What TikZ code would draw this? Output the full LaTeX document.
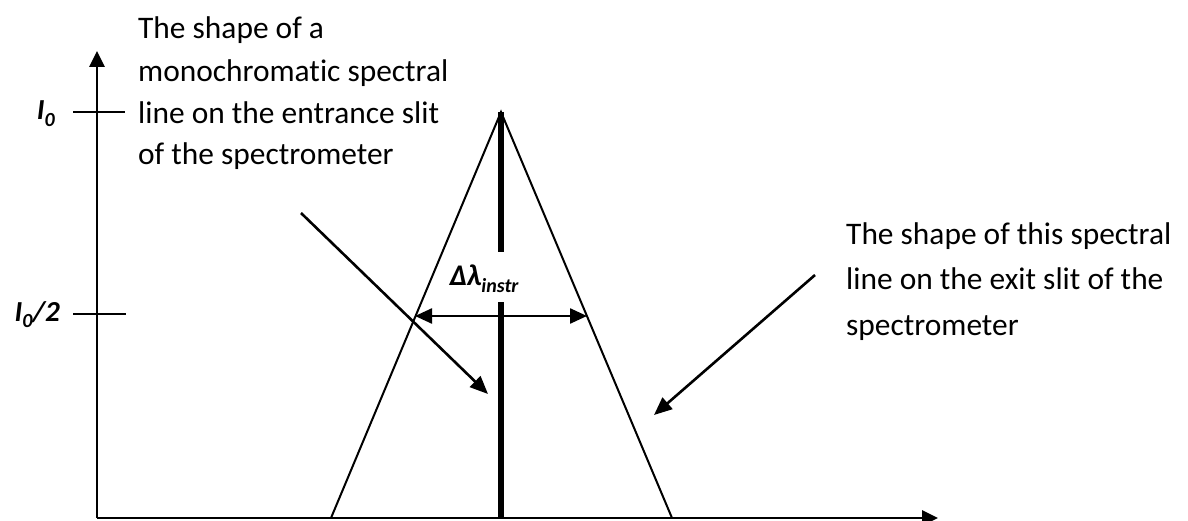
\documentclass[tikz,border=0pt]{standalone}
\usepackage{fontspec}
\setmainfont{Carlito}[Ligatures=NoCommon]
\usetikzlibrary{arrows.meta}
\begin{document}
\begin{tikzpicture}[x=1pt,y=-1pt,
  axisline/.style={line width=2.8pt},
  edgeline/.style={line width=2pt},
  slitline/.style={line width=6.5pt},
  tickline/.style={line width=1.8pt},
  ptr/.style={line width=2.6pt,-{Triangle[length=18pt,width=15pt]}},
  axtip/.style={-{Triangle[length=16pt,width=15pt]}},
  txt/.style={anchor=base west,inner sep=0pt,font=\fontsize{31.4}{38}\selectfont},
  lbl/.style={anchor=base east,inner sep=0pt,font=\fontsize{29}{30}\selectfont\bfseries\itshape}
]
\useasboundingbox (0,0) rectangle (1188,521);
% coordinates
\coordinate (O) at (97,518);
\coordinate (Ytop) at (97,51);
\coordinate (Xend) at (938,518);
\coordinate (A) at (501,112);
\coordinate (BL) at (331,518);
\coordinate (BR) at (672,518);
\coordinate (Abot) at (501,518);
\coordinate (t1a) at (73,112);
\coordinate (t1b) at (125,112);
\coordinate (t2a) at (73,314);
\coordinate (t2b) at (126,314);
\coordinate (wl) at (415,316);
\coordinate (wr) at (587,316);
\coordinate (a1s) at (301,213);
\coordinate (a1e) at (488,394);
\coordinate (a2s) at (815,275);
\coordinate (a2e) at (654,415);
% triangle and slit line
\draw[edgeline] (BL) -- (A) -- (BR);
\draw[slitline] (A) -- (Abot);
% axes
\draw[axisline,axtip] (O) -- (Ytop);
\draw[axisline,axtip] (O) -- (Xend);
% ticks
\draw[tickline] (t1a) -- (t1b);
\draw[tickline] (t2a) -- (t2b);
\node[lbl] (I0) at (55,120) {I\raisebox{-0.22em}{\fontsize{20}{20}\selectfont 0}};
\node[lbl] (I02) at (60,321) {I\raisebox{-0.22em}{\fontsize{20}{20}\selectfont 0}/2};
% width label
\node[fill=white,inner sep=0pt,text height=33pt,text depth=17pt,anchor=base,
      font=\fontsize{30}{32}\selectfont\bfseries\itshape] (dl) at (484,285)
      {Δλ\raisebox{-0.25em}{\fontsize{20}{20}\selectfont instr}};
\draw[line width=2.4pt,{Triangle[length=17pt,width=15pt]}-{Triangle[length=17pt,width=15pt]}] (wl) -- (wr);
% pointers
\draw[ptr] (a1s) -- (a1e);
\draw[ptr] (a2s) -- (a2e);
% left text
\node[txt] (l1) at (138,39) {The shape of a};
\node[txt] (l2) at (138,82) {monochromatic spectral};
\node[txt] (l3) at (138,124) {line on the entrance slit};
\node[txt] (l4) at (138,165) {of the spectrometer};
% right text
\node[txt] (r1) at (846,245) {The shape of this spectral};
\node[txt] (r2) at (846,290) {line on the exit slit of the};
\node[txt] (r3) at (846,335) {spectrometer};
\end{tikzpicture}
\end{document}
